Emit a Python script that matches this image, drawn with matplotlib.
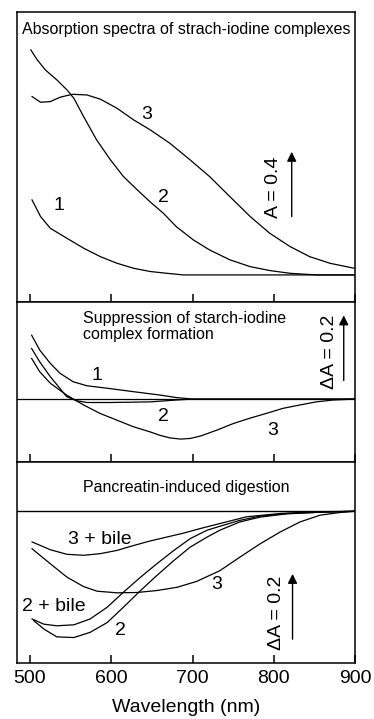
import matplotlib
matplotlib.use("Agg")
import matplotlib.pyplot as plt

plt.rcParams['font.family'] = ['Liberation Sans', 'DejaVu Sans']

# panel 1: absorption spectra (A)
wl1_c1 = [502.5, 513, 525, 545.5, 566, 586.5, 607, 627.5, 648, 668.5, 689, 750, 900]
a1_c1 = [0.463, 0.36, 0.288, 0.226, 0.165, 0.113, 0.072, 0.041, 0.021, 0.010, 0.0, 0.0, 0.0]
wl1_c2 = [501, 509, 519, 533, 545.5, 554, 566, 582, 599, 615, 632, 648, 664, 680,
          701, 721, 746, 771, 795, 820, 853, 900]
a1_c2 = [1.389, 1.327, 1.265, 1.204, 1.142, 1.09, 0.977, 0.833, 0.710, 0.607,
         0.525, 0.450, 0.381, 0.298, 0.216, 0.154, 0.093, 0.051, 0.027, 0.010,
         0.0, 0.0]
wl1_c3 = [502.5, 513, 525, 537, 552, 570, 586.5, 607, 627.5, 648, 672, 697, 721,
          746, 771, 795, 820, 844, 869, 900]
a1_c3 = [1.101, 1.066, 1.070, 1.097, 1.115, 1.111, 1.085, 1.029, 0.957, 0.895,
         0.813, 0.710, 0.607, 0.483, 0.36, 0.257, 0.175, 0.113, 0.072, 0.040]

# panel 2: suppression (dA)
wl2_c1 = [502, 512, 525, 537, 553, 570, 598, 627, 660, 680, 700, 900]
a2_c1 = [0.206, 0.158, 0.115, 0.083, 0.056, 0.043, 0.034, 0.024, 0.013, 0.005, 0.0, 0.0]
wl2_c2 = [502, 512, 525, 537, 545, 557, 570, 598, 648, 680, 700, 900]
a2_c2 = [0.163, 0.120, 0.072, 0.034, 0.008, -0.005, -0.011, -0.011, -0.009, -0.003, 0.0, 0.0]
wl2_c3 = [502, 512, 525, 545, 566, 586, 607, 627, 648, 660, 672, 685, 697, 710,
          730, 750, 770, 791, 811, 832, 852, 873, 900]
a2_c3 = [0.131, 0.088, 0.051, 0.013, -0.019, -0.046, -0.068, -0.089, -0.106,
         -0.117, -0.125, -0.129, -0.127, -0.119, -0.100, -0.079, -0.062, -0.046,
         -0.030, -0.019, -0.009, -0.003, 0.0]

# panel 3: pancreatin digestion (dA)
wl3_3b = [502.5, 525, 545.5, 566, 586.5, 607, 627.5, 648, 668.5, 689, 709.5, 730,
          766.5, 807.5, 848, 900]
a3_3b = [-0.094, -0.118, -0.132, -0.135, -0.130, -0.12, -0.105, -0.091, -0.079,
         -0.067, -0.053, -0.040, -0.017, -0.007, -0.002, 0.0]
wl3_3 = [502.5, 525, 545.5, 566, 582.5, 607, 631.5, 656, 681, 705, 733.7, 758,
         783, 807.5, 832, 857, 881, 900]
a3_3 = [-0.115, -0.161, -0.202, -0.231, -0.245, -0.25, -0.249, -0.243, -0.233,
        -0.215, -0.182, -0.141, -0.1, -0.064, -0.033, -0.012, -0.004, 0.0]
wl3_2b = [502.5, 517, 533, 554, 574, 595, 615, 636, 656, 677, 697, 718, 733.7,
          758, 783, 816, 857, 900]
a3_2b = [-0.33, -0.346, -0.351, -0.348, -0.33, -0.294, -0.248, -0.202, -0.161,
         -0.12, -0.084, -0.058, -0.046, -0.028, -0.015, -0.007, -0.003, 0.0]
wl3_2 = [504.5, 517, 533, 554, 574, 595, 615, 636, 656, 677, 697, 718, 733.7,
         758, 783, 816, 857, 900]
a3_2 = [-0.335, -0.361, -0.385, -0.387, -0.371, -0.341, -0.294, -0.243, -0.197,
        -0.151, -0.11, -0.079, -0.058, -0.033, -0.018, -0.008, -0.003, 0.0]

xticks = [500, 600, 700, 800, 900]

fig = plt.figure(figsize=(3.74, 7.19), dpi=100)
ax1 = fig.add_axes([0.0455, 0.580, 0.904, 0.4033])
ax2 = fig.add_axes([0.0455, 0.3574, 0.904, 0.2225])
ax3 = fig.add_axes([0.0455, 0.0779, 0.904, 0.2796])

lw = 0.9
fs = 14


def style(ax, labels):
    ax.set_xlim(484, 900)
    ax.set_xticks(xticks)
    ax.set_yticks([])
    ax.tick_params(axis='x', direction='in', length=6, width=1.1, top=False,
                   labelbottom=labels, labelsize=fs, pad=5)
    for s in ax.spines.values():
        s.set_linewidth(1.1)


def arrow(ax, x, y0, y1, text, tx, ty):
    ax.annotate('', xy=(x, y1), xytext=(x, y0),
                arrowprops=dict(arrowstyle='-|>', color='black', lw=1.0,
                                mutation_scale=14, shrinkA=0, shrinkB=0))
    ax.text(tx, ty, text, rotation=90, ha='center', va='center', fontsize=fs)


# top
ax1.plot(wl1_c1, a1_c1, color='black', lw=lw)
ax1.plot(wl1_c2, a1_c2, color='black', lw=lw)
ax1.plot(wl1_c3, a1_c3, color='black', lw=lw)
ax1.set_ylim(-0.167, 1.623)
style(ax1, False)
ax1.text(0.5, 0.94, 'Absorption spectra of strach-iodine complexes',
         transform=ax1.transAxes, ha='center', va='center', fontsize=11.5)
ax1.text(535, 0.43, '1', fontsize=fs, ha='center', va='center')
ax1.text(664, 0.48, '2', fontsize=fs, ha='center', va='center')
ax1.text(643, 0.99, '3', fontsize=fs, ha='center', va='center')
arrow(ax1, 822, 0.36, 0.76, 'A = 0.4', 799, 0.54)

# middle
ax2.plot(wl2_c1, a2_c1, color='black', lw=lw)
ax2.plot(wl2_c2, a2_c2, color='black', lw=lw)
ax2.plot(wl2_c3, a2_c3, color='black', lw=lw)
ax2.axhline(0, color='black', lw=lw)
ax2.set_ylim(-0.203, 0.313)
style(ax2, False)
ax2.text(565, 0.235, 'Suppression of starch-iodine\ncomplex formation',
         ha='left', va='center', fontsize=11.5, linespacing=1.1)
ax2.text(582, 0.077, '1', fontsize=fs, ha='center', va='center')
ax2.text(664, -0.055, '2', fontsize=fs, ha='center', va='center')
ax2.text(799, -0.10, '3', fontsize=fs, ha='center', va='center')
arrow(ax2, 886, 0.06, 0.27, '\u0394A = 0.2', 869, 0.152)

# bottom
ax3.plot(wl3_3b, a3_3b, color='black', lw=lw)
ax3.plot(wl3_3, a3_3, color='black', lw=lw)
ax3.plot(wl3_2b, a3_2b, color='black', lw=lw)
ax3.plot(wl3_2, a3_2, color='black', lw=lw)
ax3.axhline(0, color='black', lw=1.0)
ax3.set_ylim(-0.465, 0.151)
style(ax3, True)
ax3.text(0.5, 0.875, 'Pancreatin-induced digestion', transform=ax3.transAxes,
         ha='center', va='center', fontsize=11.5)
ax3.text(586, -0.087, '3 + bile', fontsize=fs, ha='center', va='center')
ax3.text(730, -0.225, '3', fontsize=fs, ha='center', va='center')
ax3.text(529, -0.291, '2 + bile', fontsize=fs, ha='center', va='center')
ax3.text(611, -0.364, '2', fontsize=fs, ha='center', va='center')
arrow(ax3, 823, -0.392, -0.192, '\u0394A = 0.2', 803, -0.31)
ax3.set_xlabel('Wavelength (nm)', fontsize=fs, labelpad=9)

fig.savefig('out.png', dpi=100)
